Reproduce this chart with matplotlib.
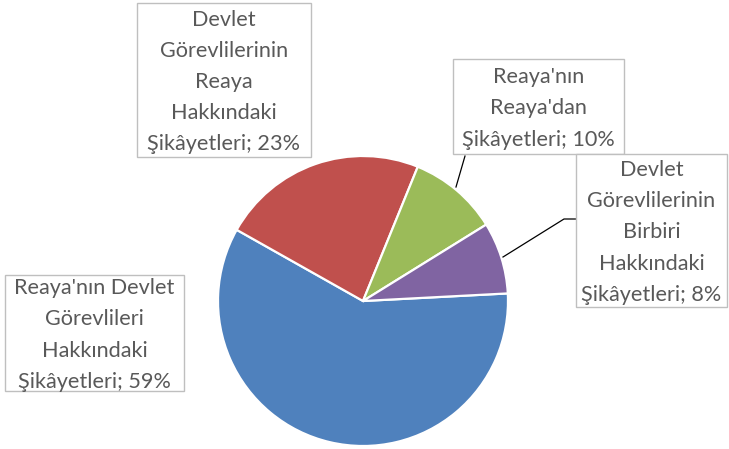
import matplotlib.pyplot as plt
from matplotlib.patches import Rectangle

# slices, clockwise from 3 o'clock (Excel order)
labels = [
    "Reaya'nın Devlet\nGörevlileri\nHakkındaki\nŞikâyetleri",
    "Devlet\nGörevlilerinin\nReaya\nHakkındaki\nŞikâyetleri",
    "Reaya'nın\nReaya'dan\nŞikâyetleri",
    "Devlet\nGörevlilerinin\nBirbiri\nHakkındaki\nŞikâyetleri",
]
shares = [59, 23, 10, 8]
colors = ["#4F81BD", "#C0504D", "#9BBB59", "#8064A2"]

W, H = 729, 449
# label boxes in pixel coords (left, top, right, bottom)
boxes = [(5, 275, 184, 391), (137, 3, 311, 157), (453, 59, 624, 154), (576, 154, 727, 307)]
# leader lines (pixel coords), None if the label sits next to its slice
leaders = [None, None, [(456, 187), (465, 156)], [(503, 257), (564, 219), (576, 219)]]

fig = plt.figure(figsize=(W / 100, H / 100), dpi=100)
ax = fig.add_axes([0, 0, 1, 1])

ax.pie(shares, colors=colors, startangle=3, counterclock=False,
       center=(363, H - 301), radius=145,
       wedgeprops=dict(edgecolor="white", linewidth=1.6))
ax.set_xlim(0, W)
ax.set_ylim(0, H)
ax.set_aspect("equal")
ax.axis("off")

for lab, pct, box, lead in zip(labels, shares, boxes, leaders):
    x0, y0, x1, y1 = box
    ax.add_patch(Rectangle((x0, H - y1), x1 - x0, y1 - y0, facecolor="white",
                           edgecolor="#BFBFBF", linewidth=1.0, zorder=3))
    ax.text((x0 + x1) / 2, H - (y0 + y1) / 2 - 2, f"{lab}; {pct}%",
            ha="center", va="center", multialignment="center",
            fontsize=15.6, family=["Lato", "DejaVu Sans"], color="#595959",
            linespacing=1.7, zorder=4)
    if lead:
        ax.plot([p[0] for p in lead], [H - p[1] for p in lead],
                color="black", linewidth=0.9, zorder=2)

fig.savefig("out.png", dpi=100)
